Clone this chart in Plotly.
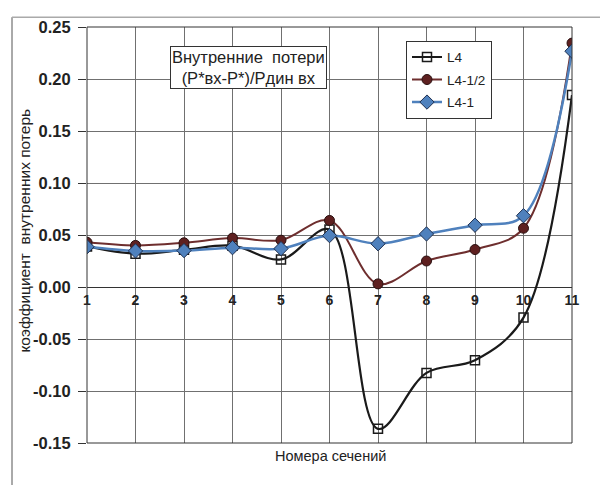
import plotly.graph_objects as go

sections = [1, 2, 3, 4, 5, 6, 7, 8, 9, 10, 11]
l4 = [0.039, 0.032, 0.0357, 0.0397, 0.0265, 0.0553, -0.1364, -0.0826, -0.0704, -0.0294, 0.1845]
l4_half = [0.043, 0.040, 0.0425, 0.047, 0.045, 0.064, 0.003, 0.025, 0.036, 0.0565, 0.2345]
l4_one = [0.0387, 0.0347, 0.035, 0.0378, 0.0369, 0.0494, 0.0416, 0.051, 0.0594, 0.0685, 0.2267]
y_ticks = [-0.15, -0.10, -0.05, 0.00, 0.05, 0.10, 0.15, 0.20, 0.25]

FONT = "Liberation Sans, Arial, sans-serif"

# page body has an 8px offset; plot area target: x 87..572, y 18..443 (window px)
OFF = 8
PL, PR, PT, PB = 87, 572, 18, 443
PW, PH = PR - PL, PB - PT


def px(x):
    return (x - PL) / PW


def py(y):
    return (PB - y) / PH


fig = go.Figure()
fig.add_trace(go.Scatter(
    x=sections, y=l4, name="L4", mode="lines+markers", legendgroup="a",
    line=dict(color="#1a1a1a", width=2.2, shape="spline", smoothing=1.0),
    marker=dict(symbol="square-open", size=9, color="#1a1a1a", line=dict(width=1.5)),
))
fig.add_trace(go.Scatter(
    x=sections, y=l4_half, name="L4-1/2", mode="lines+markers", legendgroup="b",
    line=dict(color="#6e2e2e", width=2, shape="spline", smoothing=1.0),
    marker=dict(symbol="circle", size=10, color="#5e2020", line=dict(color="#2a1010", width=1)),
))
fig.add_trace(go.Scatter(
    x=sections, y=l4_one, name="L4-1", mode="lines+markers", legendgroup="c",
    line=dict(color="#4f81bd", width=2.5, shape="spline", smoothing=1.0),
    marker=dict(symbol="diamond", size=11, color="#4f81bd", line=dict(color="#1f3050", width=1)),
))

ymin, ymax = -0.15, 0.25
zero_pos = (0 - ymin) / (ymax - ymin)

fig.update_layout(
    width=608 - OFF, height=485 - OFF,
    margin=dict(l=PL - OFF, r=608 - PR, t=PT - OFF, b=485 - PB),
    paper_bgcolor="white", plot_bgcolor="white",
    font=dict(family=FONT, color="#222"),
    showlegend=True,
    legend=dict(
        x=px(406), y=py(32), xanchor="left", yanchor="top",
        bgcolor="white", bordercolor="#333", borderwidth=1,
        font=dict(size=13.5, family=FONT, color="#222"),
        itemwidth=30, tracegroupgap=2,
    ),
    xaxis=dict(
        range=[1, 11], tickmode="array", tickvals=sections,
        ticktext=[str(s) for s in sections],
        anchor="free", position=zero_pos,
        showgrid=True, gridcolor="#707070", gridwidth=1,
        showline=False, zeroline=False, ticks="",
        tickfont=dict(size=14, family=FONT, color="#222", weight="bold"),
        ticklabelstandoff=3,
    ),
    yaxis=dict(
        range=[ymin, ymax], tickmode="array", tickvals=y_ticks,
        ticktext=[f"{v:.2f}" for v in y_ticks],
        showgrid=True, gridcolor="#707070", gridwidth=1,
        zeroline=True, zerolinecolor="#333", zerolinewidth=1,
        ticks="outside", ticklen=8, tickcolor="#333",
        tickfont=dict(size=16.5, family=FONT, color="#222", weight="bold"),
        ticklabelstandoff=4,
        showline=False,
    ),
    shapes=[
        dict(type="rect", xref="paper", yref="paper", x0=0, x1=1, y0=0, y1=1,
             line=dict(color="#333", width=1)),
        dict(type="line", xref="paper", yref="paper",
             x0=px(12), x1=px(12), y0=py(8), y1=py(495),
             line=dict(color="#555", width=1)),
        dict(type="line", xref="paper", yref="paper",
             x0=px(12), x1=px(620), y0=py(8), y1=py(8),
             line=dict(color="#aaa", width=1.5)),
    ],
    annotations=[
        dict(text="Внутренние  потери<br>(P*вх-P*)/Pдин вх", xref="paper", yref="paper",
             x=px(248), y=py(59), xanchor="center", yanchor="middle",
             showarrow=False, bgcolor="white", bordercolor="#333", borderwidth=1, borderpad=1,
             font=dict(size=16.5, family=FONT, color="#222")),
        dict(text="коэффициент  внутренних потерь", xref="paper", yref="paper",
             x=px(25), y=py(226), xanchor="center", yanchor="middle",
             textangle=-90, showarrow=False, font=dict(size=15.5, family=FONT, color="#222")),
        dict(text="Номера сечений", xref="paper", yref="paper",
             x=px(330), y=py(456), xanchor="center", yanchor="middle",
             showarrow=False, font=dict(size=14.5, family=FONT, color="#222")),
    ],
)

fig.write_html("out.html")
